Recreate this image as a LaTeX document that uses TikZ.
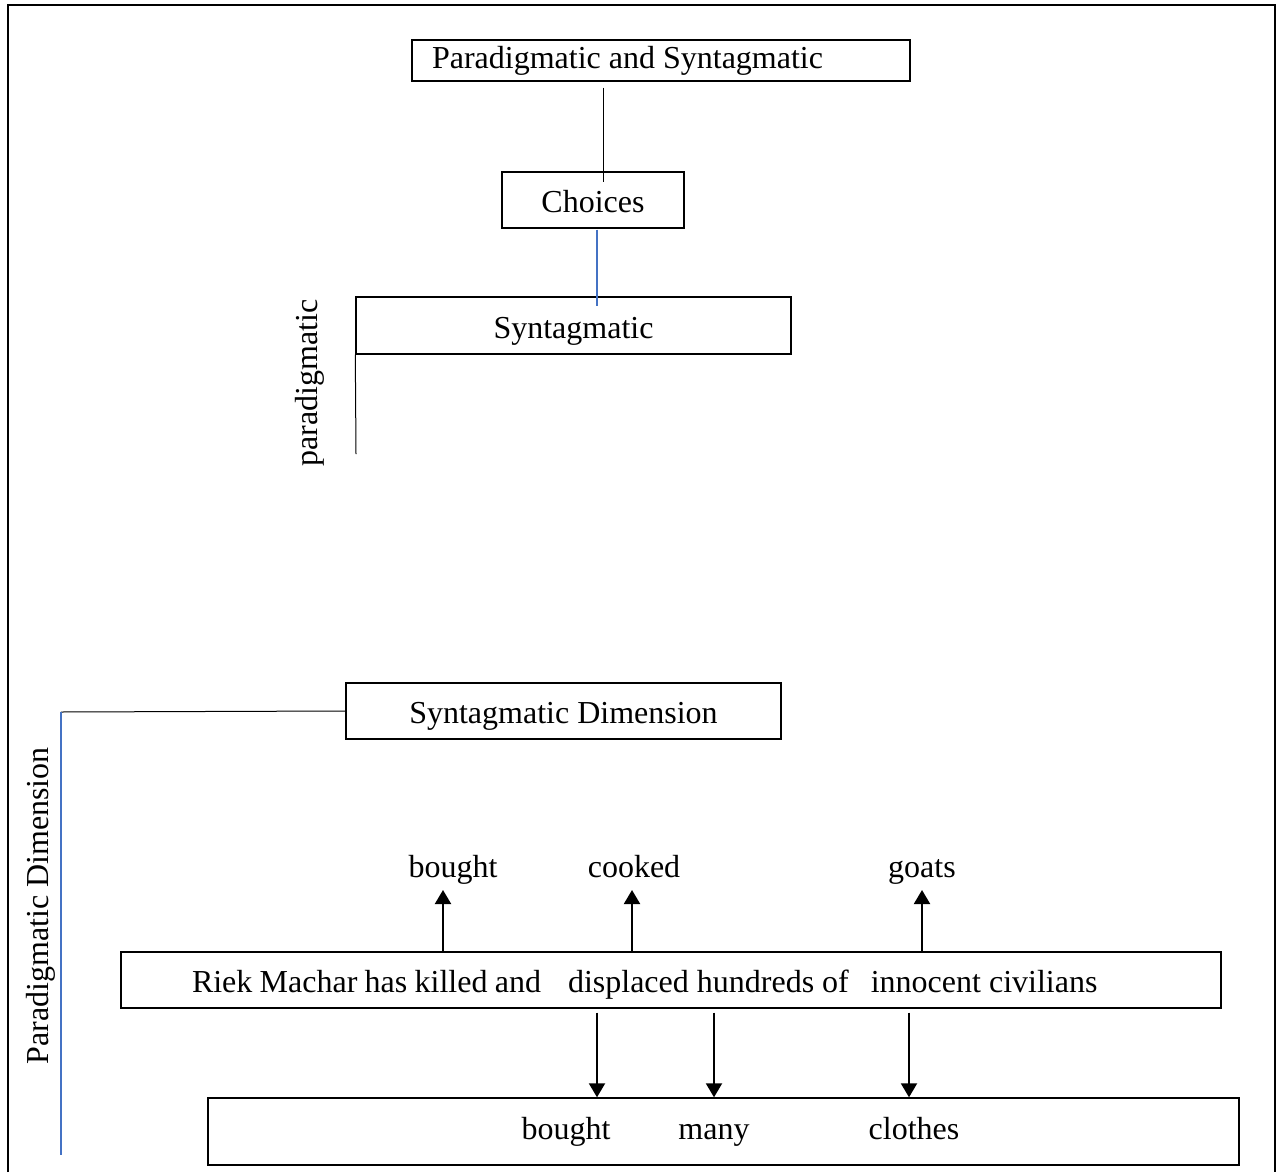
\documentclass[tikz,border=0pt]{standalone}
\usepackage{fontspec}
\setmainfont{Liberation Serif}
\usetikzlibrary{arrows.meta}
\definecolor{wordblue}{RGB}{68,114,196}
\tikzset{
  every node/.append style={font=\fontsize{16pt}{19pt}\selectfont},
  box/.style={draw, line width=0.7pt, inner sep=0pt},
  lowtext/.style={text height=12.5pt, text depth=0pt},
  conn/.style={line width=0.5pt},
  blueconn/.style={line width=0.6pt, wordblue},
  word/.style={anchor=base, inner sep=1pt},
}
\begin{document}
\begin{tikzpicture}[x=0.5pt,y=-0.5pt,>={Triangle[length=7pt,width=8pt]}]
	\useasboundingbox (0,0) rectangle (1279,1172);
	% page frame, open at the bottom
	\draw[line width=1pt] (8,1172)--(8,5)--(1275,5)--(1275,1172);
	% upper part
	\node[box, minimum height=20.5pt, inner xsep=10pt, text width=229pt, align=flush left] (top) at (661,60.5) {Paradigmatic and Syntagmatic};
	\node[box, lowtext, minimum width=91pt, minimum height=28pt] (choices) at (593,200) {Choices};
	\node[box, lowtext, minimum width=217.5pt, minimum height=28.5pt] (syn) at (573.5,325.5) {Syntagmatic};
	\node[rotate=90] (plab) at (310,383) {paradigmatic};
	\coordinate (pend) at (356,454);
	\draw[conn] ([shift={(-58,6)}]top.south)--([shift={(10,11)}]choices.north);
	\draw[blueconn] ([shift={(4,1)}]choices.south)--([shift={(23.5,10)}]syn.north);
	\draw[conn] (syn.south west)--(pend);
	% lower part
	\node[box, lowtext, minimum width=217.5pt, minimum height=28pt] (syndim) at (563.5,711) {Syntagmatic Dimension};
	\node[rotate=90] (dlab) at (41,906) {Paradigmatic Dimension};
	\coordinate (corner) at (61,712);
	\coordinate (dimend) at (61,1155);
	\draw[conn] (syndim.west)--(corner);
	\draw[blueconn] (corner)--(dimend);
	\node[box, lowtext, minimum height=28pt, inner xsep=35.5pt, text width=479pt, align=flush left] (sent) at (671,980)
		{\makebox[174.5pt][s]{Riek Machar has killed and}\hspace{13.5pt}displaced hundreds of\hspace{11pt}innocent civilians};
	\node[box, minimum width=515.5pt, minimum height=33.5pt] (bot) at (723.5,1131.5) {};
	% words above
	\coordinate (u1) at (443,890);
	\coordinate (u2) at (632,890);
	\coordinate (u3) at (922,890);
	\node[word] (w1) at (453,877) {bought};
	\node[word] (w2) at (634,877) {cooked};
	\node[word] (w3) at (922,877) {goats};
	\foreach \u in {u1,u2,u3}
		\draw[->, line width=1pt] (sent.north -| \u)--(\u);
	% words below
	\coordinate (d1) at (597,0);
	\coordinate (d2) at (714,0);
	\coordinate (d3) at (909,0);
	\foreach \d in {d1,d2,d3}
		\draw[->, line width=1pt, shorten <=2pt] (sent.south -| \d)--(bot.north -| \d);
	\node[word] (b1) at (566,1139) {bought};
	\node[word] (b2) at (714,1139) {many};
	\node[word] (b3) at (914,1139) {clothes};
\end{tikzpicture}
\end{document}
